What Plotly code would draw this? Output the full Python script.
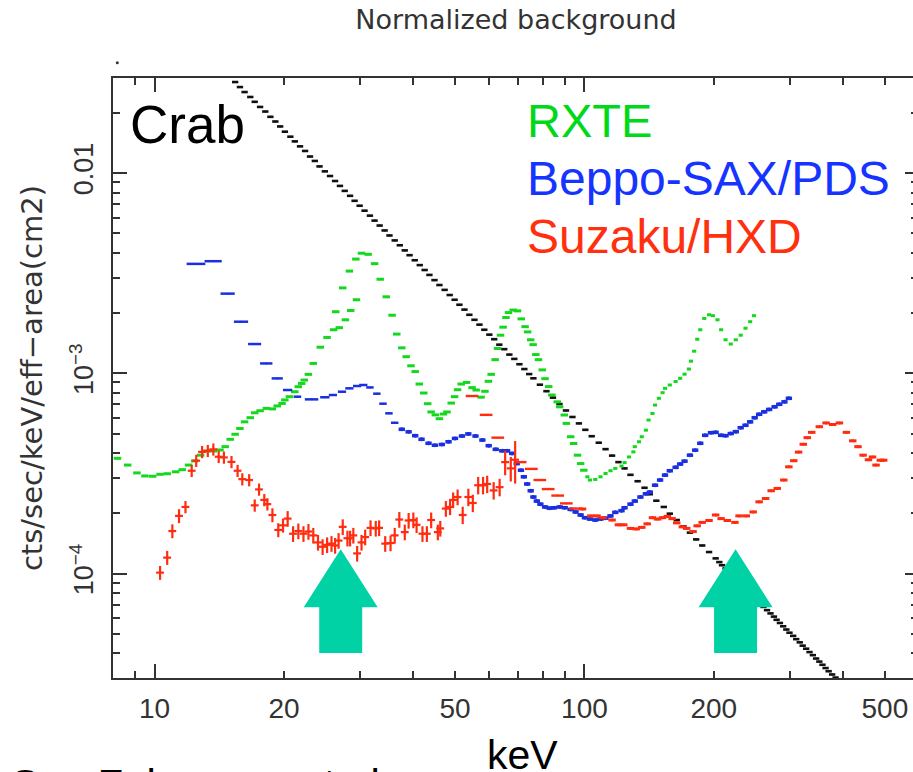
import plotly.graph_objects as go

W, H = 913, 772

# ---- Crab (black) ----
crab_kev = [15.4,15.8,16.2,16.7,17.1,17.6,18.1,18.6,19.1,19.6,
            20.1,20.7,21.2,21.8,22.4,23.0,23.6,24.2,24.9,25.6,
            26.3,27.0,27.7,28.5,29.2,30.0,30.8,31.7,32.5,33.4,
            34.3,35.2,36.2,37.2,38.2,39.2,40.3,41.4,42.5,43.6,
            44.8,46.0,47.3,48.6,49.9,51.2,52.6,54.0,55.5,57.0,
            58.5,60.1,61.7,63.4,65.1,66.9,68.7,70.6,72.5,74.4,
            76.1,78.8,81.6,84.5,87.5,90.6,93.8,97.1,100.5,104,108,112,116,120,
            124,128,133,138,142,147,153,158,164,170,176,182,188,195,
            202,206,209,213,216,220,224,228,232,236,
            240,244,248,252,257,261,266,271,276,280,
            285,290,295,300,306,311,317,322,328,334,
            340,346,352,358,364,370,377,384,390]
crab_flux = [.0285,.0269,.0254,.0240,.0227,.0214,.0203,.0191,.0181,.0171,
             .0161,.0152,.0144,.0136,.0129,.0121,.0115,.0108,.0102,.00967,
             .00913,.00863,.00815,.00770,.00727,.00687,.00649,.00613,.00579,.00547,
             .00517,.00488,.00461,.00436,.00411,.00389,.00367,.00347,.00328,.00310,
             .00292,.00276,.00261,.00246,.00233,.00220,.00208,.00196,.00185,.00175,
             .00165,.00156,.00148,.00139,.00132,.00124,.00118,.00111,.00105,.000991,
             .000944,.000877,.000814,.000756,.000702,.000652,.000605,.000562,.000522,.000485,.00045,.000418,.000388,.00036,
             .000335,.000311,.000289,.000268,.000249,.000231,.000215,.000199,.000185,.000172,.00016,.000148,.000138,.000128,
             .000119,.000114,.00011,.000106,.000102,.0000982,.000095,.0000914,.0000882,.0000851,
             .0000819,.0000789,.0000761,.0000733,.0000707,.0000681,.0000656,.0000632,.0000609,.0000587,
             .0000566,.0000545,.0000525,.0000506,.0000488,.000047,.0000453,.0000436,.0000421,.0000405,
             .0000391,.0000376,.0000363,.000035,.0000337,.0000325,.0000313,.0000302,.0000291]

# ---- RXTE (green) ----
rxte_low_kev = [8.2,8.66,9.1,9.5,9.9,10.3,10.7,11.2,11.6,12.0,12.4,12.8,13.2,13.7,14.2,14.6,15.0,15.4,15.8,16.2,
                16.7,17.1,17.6,18.2,18.8,19.3,19.8,20.1,20.6,21.2,21.6,22.0,22.3,22.8,23.4,24.3,25.2,26.1,26.4,26.9,
                27.4,27.8,28.4,28.6,29.4,29.5,30.3,31.4,32.5,33.5,34.6,35.7,36.6,37.6,38.5,39.5,40.4,41.3,42.3,43.2,
                44.0,45.0,46.0,47.0,47.9,49.0,49.9,50.7,51.7,53.2,54.8,56.0,57.5,58.7,59.8,60.7,62.0,62.8,63.8,64.7,
                65.7,66.6,68.3,69.9,71.3,72.8,73.8,75.0,76.0,77.1,78.2,79.8,81.0,82.6,84.0,86.5,87.6,89.8,90.8,92.9,
                94.4,96.4,98.0,99.7]
rxte_low_flux = [3.76e-4,3.48e-4,3.18e-4,3.07e-4,3.06e-4,3.13e-4,3.15e-4,3.22e-4,3.30e-4,3.48e-4,3.65e-4,3.90e-4,4.09e-4,4.09e-4,4.14e-4,4.30e-4,4.68e-4,4.96e-4,5.30e-4,5.72e-4,
                 6.00e-4,6.35e-4,6.50e-4,6.68e-4,6.64e-4,6.87e-4,7.07e-4,7.36e-4,7.64e-4,8.09e-4,8.57e-4,8.90e-4,9.25e-4,9.88e-4,1.12e-3,1.35e-3,1.51e-3,1.65e-3,2.03e-3,1.69e-3,
                 2.67e-3,1.85e-3,3.24e-3,2.06e-3,3.72e-3,2.33e-3,3.98e-3,3.93e-3,3.53e-3,2.95e-3,2.41e-3,1.95e-3,1.57e-3,1.34e-3,1.21e-3,1.09e-3,1.02e-3,8.84e-4,7.97e-4,7.05e-4,
                 6.41e-4,6.20e-4,5.93e-4,6.26e-4,6.41e-4,7.10e-4,7.64e-4,8.28e-4,8.84e-4,9.00e-4,8.48e-4,8.25e-4,7.60e-4,8.13e-4,9.12e-4,9.88e-4,1.17e-3,1.33e-3,1.55e-3,1.70e-3,
                 1.90e-3,2.01e-3,2.07e-3,2.05e-3,1.87e-3,1.71e-3,1.61e-3,1.47e-3,1.39e-3,1.24e-3,1.17e-3,1.04e-3,9.40e-4,8.58e-4,7.79e-4,7.20e-4,6.80e-4,6.19e-4,5.62e-4,4.82e-4,
                 4.46e-4,3.90e-4,3.54e-4,3.28e-4]
rxte_high_kev = [101.6,103,106,109,112,115,118,122,124,127,130,131,134,136,139,141,144,146,149,152,154,158,163,167,171,
                 175,177,180,183,186,190,195,199,204,208,213,219,225,231,237,243,248]
rxte_high_flux = [3.04e-4,2.93e-4,2.95e-4,3.04e-4,3.16e-4,3.26e-4,3.35e-4,3.44e-4,3.58e-4,3.82e-4,4.05e-4,4.30e-4,4.55e-4,4.82e-4,5.20e-4,5.84e-4,6.30e-4,6.94e-4,7.50e-4,8.00e-4,8.41e-4,8.74e-4,9.10e-4,9.44e-4,9.90e-4,
                  1.05e-3,1.15e-3,1.29e-3,1.48e-3,1.65e-3,1.88e-3,1.96e-3,1.94e-3,1.85e-3,1.65e-3,1.47e-3,1.40e-3,1.47e-3,1.55e-3,1.68e-3,1.81e-3,1.94e-3]

# ---- Beppo-SAX/PDS (blue) ----
pds_low_kev = [12.5,13.7,14.8,15.9,17.1,18.2,19.3,20.4,21.5,23.2,24.9,26.0,27.3,28.4,29.6,30.6,31.7,32.9,34.0,35.1,36.2]
pds_low_flux = [3.52e-3,3.63e-3,2.50e-3,1.81e-3,1.40e-3,1.12e-3,9.43e-4,8.25e-4,7.64e-4,7.41e-4,7.59e-4,7.79e-4,8.09e-4,8.41e-4,8.64e-4,8.74e-4,8.50e-4,7.91e-4,7.05e-4,6.31e-4,5.66e-4]
pds_low_halfwidth_pct = [5,4.6,3.8,3.8,3.5,3.3,3,2.5,2,3.6,2.5,2.2,2.2,2.2,2.2,2.2,2,2,2,2,2]
pds_high_kev = [37.6,39.0,40.4,41.8,43.4,44.9,46.6,48.3,50.0,51.9,53.7,55.8,57.9,59.9,62.2,64.4,66.1,67.9,69.6,71.2,72.3,73.6,75.0,76.1,77.5,
                79,81,83,85,87.6,90,92.9,95.4,98,100.3,103,106,109,112,115,118,122,124,128,131,135,139,142,146,150,154,158,163,167,171,
                176,181,186,191,197,202,208,213,219,225,231,237,243,249,255,262,269,277,284,292,299]
pds_high_flux = [5.25e-4,5.10e-4,4.88e-4,4.68e-4,4.47e-4,4.37e-4,4.41e-4,4.55e-4,4.73e-4,4.86e-4,4.98e-4,4.86e-4,4.64e-4,4.35e-4,4.17e-4,4.10e-4,4.10e-4,3.98e-4,3.54e-4,3.28e-4,3.04e-4,2.80e-4,2.59e-4,2.41e-4,2.30e-4,
                 2.22e-4,2.15e-4,2.12e-4,2.13e-4,2.15e-4,2.13e-4,2.09e-4,2.03e-4,1.96e-4,1.90e-4,1.87e-4,1.85e-4,1.87e-4,1.89e-4,1.94e-4,2.02e-4,2.06e-4,2.13e-4,2.22e-4,2.30e-4,2.41e-4,2.50e-4,2.55e-4,2.76e-4,2.93e-4,3.10e-4,3.26e-4,3.39e-4,3.52e-4,3.64e-4,
                 3.90e-4,4.13e-4,4.47e-4,4.90e-4,5.05e-4,5.07e-4,4.90e-4,4.88e-4,5.00e-4,5.11e-4,5.35e-4,5.50e-4,5.72e-4,6.00e-4,6.24e-4,6.42e-4,6.60e-4,6.80e-4,7.00e-4,7.20e-4,7.50e-4]

# ---- Suzaku/HXD (red): PIN crosses ----
pin_kev = [10.3,10.7,11.0,11.4,11.8,12.2,12.5,12.9,13.3,13.7,14.1,14.5,15.1,15.6,16.0,16.6,17.1,17.5,18.0,18.3,18.8,19.4,19.9,20.4,21.0,
           21.6,22.2,22.8,23.4,24.0,24.6,25.2,25.8,26.3,26.8,27.4,28.1,28.5,29.0,29.6,30.3,30.9,31.8,32.7,33.3,34.4,35.4,36.2,37.1,38.2,
           39.0,40.0,40.7,42.0,43.0,44.0,45.6,46.2,47.6,48.7,49.5,50.7,52.1,53.7,55.0,56.6,58.1,59.4,61.5,63.5,65.4,67.4,69.0]
pin_flux = [1.01e-4,1.20e-4,1.63e-4,1.94e-4,2.15e-4,3.26e-4,3.66e-4,4.05e-4,4.10e-4,4.17e-4,3.83e-4,3.80e-4,3.61e-4,3.26e-4,2.96e-4,2.93e-4,2.19e-4,2.63e-4,2.33e-4,2.22e-4,1.96e-4,1.65e-4,1.74e-4,1.88e-4,1.58e-4,
            1.63e-4,1.58e-4,1.62e-4,1.55e-4,1.43e-4,1.36e-4,1.39e-4,1.41e-4,1.38e-4,1.46e-4,1.71e-4,1.50e-4,1.50e-4,1.55e-4,1.26e-4,1.43e-4,1.52e-4,1.69e-4,1.68e-4,1.69e-4,1.41e-4,1.42e-4,1.55e-4,1.86e-4,1.61e-4,
            1.84e-4,1.85e-4,1.75e-4,1.58e-4,1.58e-4,1.85e-4,1.61e-4,1.68e-4,2.11e-4,2.15e-4,2.33e-4,2.41e-4,1.96e-4,2.41e-4,2.25e-4,2.76e-4,2.76e-4,2.80e-4,2.60e-4,2.70e-4,3.60e-4,3.35e-4,3.70e-4]
pin_err_pct = [8,8,8,8,7,7,7,7,7,7,7,7,7,7,7,7,7,7,7,7,8,8,8,9,9,
               9,9,9,9,9,9,9,9,9,9,9,9,9,9,9,9,9,9,9,9,9,9,9,9,9,
               9,9,9,9,9,9,9,9,9,9,9,9,10,10,10,10,10,10,10,10,14,14,24]

# ---- Suzaku/HXD (red): GSO dashes ----
gso_wide_kev = [54.8,59.1,62.9,70.9,75.3,78.8,82.4,86.7,90.8,95.4]
gso_wide_flux = [7.7e-4,6.2e-4,4.77e-4,3.6e-4,3.33e-4,2.93e-4,2.64e-4,2.45e-4,2.24e-4,2.11e-4]
gso_kev = [99,103.5,107,110.5,116,120,123.5,128,132,136,140,144,148,152,156,160,164,169,173,179,183,188,195,202,208,215,224,229,238,247,
           255,264,272,281,291,299,307,315,323,330,338,352,365,378,392,407,421,433,445,458,468,477,488,497]
gso_flux = [2.10e-4,1.94e-4,1.94e-4,1.90e-4,1.85e-4,1.75e-4,1.75e-4,1.68e-4,1.67e-4,1.70e-4,1.77e-4,1.90e-4,1.87e-4,1.90e-4,1.93e-4,1.88e-4,1.79e-4,1.71e-4,1.68e-4,1.62e-4,1.73e-4,1.80e-4,1.84e-4,1.96e-4,1.88e-4,1.84e-4,1.80e-4,1.94e-4,1.94e-4,2.03e-4,
            2.28e-4,2.37e-4,2.59e-4,2.66e-4,2.93e-4,3.41e-4,3.66e-4,4.04e-4,4.42e-4,4.77e-4,5.07e-4,5.41e-4,5.65e-4,5.55e-4,5.65e-4,5.07e-4,4.60e-4,4.30e-4,3.90e-4,3.70e-4,3.82e-4,3.48e-4,3.68e-4,3.68e-4]

x_label_ticks = [10, 20, 50, 100, 200, 500]
x_label_text = ["10", "20", "50", "100", "200", "500"]
x_short_ticks = [9, 30, 40, 60, 70, 80, 90, 300, 400]
x_long_ticks = [10, 100]
y_major_ticks = [0.01, 0.001, 0.0001]
y_major_text = ["0.01", "10<sup>−3</sup>", "10<sup>−4</sup>"]
y_minor_ticks = [m * d for d in (1e-5, 1e-4, 1e-3, 1e-2) for m in range(2, 10)]

GREEN, BLUE, RED, TEAL = "#14d81e", "#1a30e0", "#ff2c10", "#00d2a6"
LEG_GREEN, LEG_BLUE, LEG_RED = "#00d81a", "#1634ff", "#ff3010"
INK = "#333333"

L, R, T, B = 112.7, 913.0, 78.3, 677.7  # plot frame in window pixels
XR = [0.9033, 2.7644]
YR = [-4.522, -1.525]


def series(x, y, color, pct=None, thick=3, xarr=None, yerr=None, dot=2):
    ex = dict(type="percent", value=pct, thickness=thick, width=0, color=color)
    if xarr is not None:
        ex = dict(type="data", array=xarr, thickness=thick, width=0, color=color)
    ey = dict(visible=False)
    if yerr is not None:
        ey = dict(type="data", array=yerr, thickness=2.2, width=0, color=color)
    return go.Scatter(x=x, y=y, mode="markers", marker=dict(size=dot, color=color),
                      error_x=ex, error_y=ey, showlegend=False, hoverinfo="x+y")


fig = go.Figure()
fig.add_trace(series(crab_kev, crab_flux, "#111111", pct=1.7, thick=2.6))
fig.add_trace(series(rxte_low_kev, rxte_low_flux, GREEN, pct=2.0, thick=3))
fig.add_trace(series(rxte_high_kev, rxte_high_flux, GREEN, pct=1.1, thick=3))
fig.add_trace(series(pds_low_kev, pds_low_flux, BLUE, thick=2.5,
                     xarr=[e * p / 100 for e, p in zip(pds_low_kev, pds_low_halfwidth_pct)]))
fig.add_trace(series(pds_high_kev, pds_high_flux, BLUE, pct=1.7, thick=3.5, dot=4))
fig.add_trace(series(pin_kev, pin_flux, RED, pct=2.1, thick=2.2,
                     yerr=[f * p / 100 for f, p in zip(pin_flux, pin_err_pct)]))
fig.add_trace(series(gso_wide_kev, gso_wide_flux, RED, pct=3.4, thick=2.4))
fig.add_trace(series(gso_kev, gso_flux, RED, pct=2.0, thick=3, dot=3))
# carrier for the long x ticks and the right-hand y ticks
fig.add_trace(go.Scatter(x=[20], y=[0.001], xaxis="x2", yaxis="y2", mode="markers",
                         marker=dict(opacity=0), showlegend=False, hoverinfo="skip"))


def px(x):
    return (x - L) / (R - L)


def py(y):
    return (B - y) / (B - T)


def label(text, x, y, size, color, xanchor="left", yanchor="middle"):
    return dict(text=text, x=px(x), y=py(y), xref="paper", yref="paper", showarrow=False,
                xanchor=xanchor, yanchor=yanchor, font=dict(family="Liberation Sans", size=size, color=color))


def arrow(cx):
    pts = [(cx, 549), (cx + 37, 607), (cx + 21.5, 607), (cx + 21.5, 652.7),
           (cx - 21.5, 652.7), (cx - 21.5, 607), (cx - 37, 607)]
    path = "M " + " L ".join(f"{px(a):.5f},{py(b):.5f}" for a, b in pts) + " Z"
    return dict(type="path", path=path, xref="paper", yref="paper", fillcolor=TEAL, line_width=0, layer="above")


fig.update_layout(
    width=W, height=H, autosize=False, paper_bgcolor="white", plot_bgcolor="white",
    margin=dict(l=L, r=W - R, t=T, b=H - B, pad=0),
    showlegend=False,
    title=dict(text="Normalized background", x=516 / W, xref="container", xanchor="center",
               y=1 - 20 / H, yref="container", yanchor="middle",
               font=dict(family="DejaVu Sans", size=27, color=INK)),
    xaxis=dict(type="log", range=XR, showgrid=False, zeroline=False, showline=True, linecolor=INK, linewidth=2,
               mirror="ticks", ticks="inside", ticklen=7, tickwidth=1.5, tickcolor=INK,
               tickmode="array", tickvals=x_label_ticks, ticktext=x_label_text, tickangle=0,
               tickfont=dict(family="Liberation Sans", size=28, color=INK), ticklabelstandoff=4,
               minor=dict(tickmode="array", tickvals=x_short_ticks, ticks="inside", ticklen=7,
                          tickwidth=1.5, tickcolor=INK, showgrid=False)),
    xaxis2=dict(type="log", range=XR, overlaying="x", anchor="y", side="bottom", showgrid=False, zeroline=False,
                showline=False, mirror="ticks", ticks="inside", ticklen=14, tickwidth=1.5, tickcolor=INK,
                tickmode="array", tickvals=x_long_ticks, showticklabels=False),
    yaxis=dict(type="log", range=YR, showgrid=False, zeroline=False, showline=True, linecolor=INK, linewidth=2,
               ticks="inside", ticklen=14, tickwidth=1.5, tickcolor=INK,
               tickmode="array", tickvals=y_major_ticks, ticktext=y_major_text, tickangle=-90,
               tickfont=dict(family="Liberation Sans", size=27, color=INK), ticklabelstandoff=7,
               title=dict(text="cts/sec/keV/eff−area(cm2)", standoff=14,
                          font=dict(family="DejaVu Sans", size=29, color=INK)),
               minor=dict(tickmode="array", tickvals=y_minor_ticks, ticks="inside", ticklen=7,
                          tickwidth=1.5, tickcolor=INK, showgrid=False)),
    yaxis2=dict(type="log", range=YR, overlaying="y", anchor="x", side="right", showgrid=False, zeroline=False,
                showline=False, ticks="inside", ticklen=8, tickwidth=1.5, tickcolor=INK,
                tickmode="array", tickvals=y_major_ticks, showticklabels=False,
                minor=dict(tickmode="array", tickvals=y_minor_ticks, ticks="inside", ticklen=2,
                           tickwidth=1.5, tickcolor=INK, showgrid=False)),
    annotations=[
        label("Crab", 128, 125, 53, "black"),
        label("RXTE", 525, 121, 47, LEG_GREEN),
        label("Beppo-SAX/PDS", 525, 179, 48, LEG_BLUE),
        label("Suzaku/HXD", 525, 237, 48, LEG_RED),
        label("keV", 522, 755, 41, "black", xanchor="center"),
        label("See Fukazawa et al.", 9, 784, 42, "black"),
    ],
    shapes=[arrow(340.5), arrow(735.5),
            dict(type="circle", xref="paper", yref="paper", x0=px(115.5), x1=px(118.5), y0=py(64.5), y1=py(61.5),
                 fillcolor=INK, line_width=0)],
)

# The page's default body margin would push the 913-wide figure out of the window.
fig.write_html("out.html", config={"displayModeBar": False},
               post_script="document.body.style.margin='0';")
